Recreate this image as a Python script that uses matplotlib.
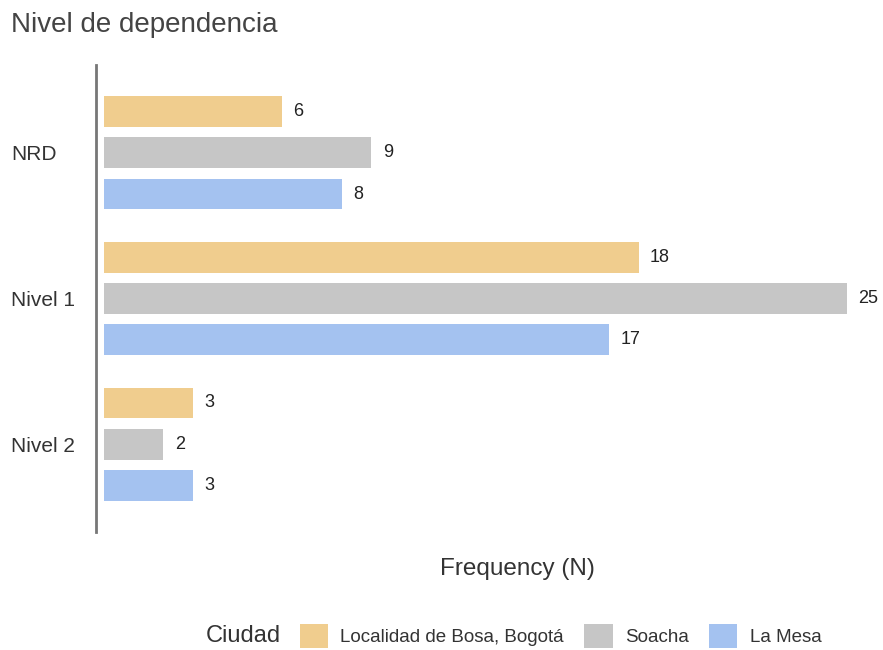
import numpy as np
import matplotlib.pyplot as plt

plt.rcParams['font.family'] = ['Liberation Sans', 'DejaVu Sans']

# Datos
niveles = ["NRD", "Nivel 1", "Nivel 2"]
ciudades = ["Localidad de Bosa, Bogotá", "Soacha", "La Mesa"]
bosa = [6, 18, 3]
soacha = [9, 25, 2]
la_mesa = [8, 17, 3]
colores = ["#F0CD8E", "#C6C6C6", "#A4C2F0"]

fig = plt.figure(figsize=(8.83, 6.5), dpi=100)
ax = fig.add_axes([96 / 883, 1 - 532 / 650, (860 - 96) / 883, (532 - 65) / 650])

y = np.arange(len(niveles))
paso = 0.284
alto = 0.212
series = [bosa, soacha, la_mesa]
barras = []
for i, (vals, nombre, c) in enumerate(zip(series, ciudades, colores)):
    b = ax.barh(y + (i - 1) * paso, vals, height=alto, color=c, label=nombre)
    barras.append(b)
    for yy, v in zip(y + (i - 1) * paso, vals):
        ax.text(v + 0.38, yy, str(v), va='center', ha='left', fontsize=13, color='#222222')

ax.set_ylim(2.6, -0.6)
ax.set_xlim(-0.27, 25.45)
ax.set_yticks(y)
ax.set_yticklabels(niveles, fontsize=15, color='#333333')
ax.tick_params(axis='y', length=0, pad=61)
for lab in ax.get_yticklabels():
    lab.set_horizontalalignment('left')
ax.set_xticks([])
for s in ['top', 'right', 'bottom']:
    ax.spines[s].set_visible(False)
ax.spines['left'].set_color('#777777')
ax.spines['left'].set_linewidth(2)

fig.text(11 / 883, 1 - 25 / 650, "Nivel de dependencia", fontsize=20, color='#444444', va='center', ha='left')
fig.text(517 / 883, 1 - 569 / 650, "Frequency (N)", fontsize=17.5, color='#333333', va='center', ha='center')

fig.text(206 / 883, 1 - 636 / 650, "Ciudad", fontsize=17, color='#333333', va='center', ha='left')
fig.legend(handles=barras, labels=ciudades, ncol=3, loc='center left',
           bbox_to_anchor=(283 / 883, 1 - 636 / 650), frameon=False, fontsize=13.5,
           handlelength=1.5, handleheight=1.6, columnspacing=1.1, handletextpad=0.65,
           labelcolor='#333333')

fig.savefig("out.png", dpi=100)
